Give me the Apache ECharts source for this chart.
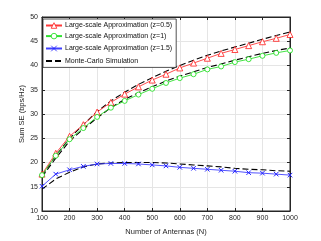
<!DOCTYPE html>
<html><head><meta charset="utf-8">
<script src="https://cdn.jsdelivr.net/npm/echarts@6/dist/echarts.min.js"></script>
<style>html,body{margin:0;padding:0;background:#fff}#c{width:321px;height:241px}</style>
</head><body><div id="c"></div>
<script>
var antennas = [100,150,200,250,300,350,400,450,500,550,600,650,700,750,800,850,900,950,1000];
var approxZ05 = [17.6,21.9,25.4,27.8,30.4,32.4,34.1,35.6,37.0,38.2,39.5,40.5,41.5,42.5,43.3,44.1,44.9,45.6,46.4];
var approxZ1  = [17.4,21.4,24.8,27.1,29.4,31.3,32.7,34.0,35.2,36.4,37.4,38.2,39.2,39.8,40.7,41.3,42.0,42.6,43.1];
var approxZ15 = [15.1,17.6,18.5,19.2,19.7,19.8,19.8,19.7,19.5,19.3,19.0,18.8,18.6,18.4,18.2,17.9,17.8,17.6,17.4];
var mcZ05 = [17.3,21.4,25.0,27.8,30.5,32.7,34.5,36.1,37.5,38.8,40.0,41.1,42.1,43.0,43.8,44.6,45.4,46.2,46.9];
var mcZ1  = [17.0,20.9,24.4,26.9,29.2,31.3,33.0,34.4,35.6,36.8,37.8,38.7,39.6,40.3,41.1,41.8,42.5,43.1,43.6];
var mcZ15 = [14.5,16.6,18.0,19.1,19.7,19.9,20.0,20.0,20.0,19.9,19.7,19.5,19.3,19.1,18.8,18.6,18.5,18.3,18.2];
var xTicks = [100,200,300,400,500,600,700,800,900,1000];
var legendNames = ['Large-scale Approximation (z=0.5)','Large-scale Approximation (z=1)','Large-scale Approximation (z=1.5)','Monte-Carlo Simulation'];

function pairs(ys){ return antennas.map(function(x,i){return [x, ys[i]];}); }
var axisColor = '#262626';
var gridLine = {show:true, lineStyle:{color:'#e5e5e5', width:1}};
var chart = echarts.init(document.getElementById('c'), null, {renderer:'canvas'});
var mcStyle = {type:'line', symbol:'path://M0,0L1,1', showSymbol:false, z:3,
  itemStyle:{color:'#000'}, lineStyle:{color:'#000', width:1.1, type:[6,3]}};
function mc(d){ var s = Object.assign({}, mcStyle); s.name = legendNames[3]; s.data = pairs(d); return s; }
chart.setOption({
  animation:false,
  backgroundColor:'#fff',
  textStyle:{fontFamily:'Liberation Sans, Arial, sans-serif'},
  grid:{left:42, right:31, top:17, bottom:26, show:true, borderColor:axisColor, borderWidth:1, backgroundColor:'transparent'},
  xAxis:[{
    type:'value', min:100, max:1000, interval:100,
    name:'Number of Antennas (N)', nameLocation:'middle', nameGap:17, nameMoveOverlap:false,
    nameTextStyle:{fontSize:7.5, color:axisColor},
    axisLine:{show:true, lineStyle:{color:axisColor}},
    axisTick:{show:true, inside:true, length:3, lineStyle:{color:axisColor}},
    axisLabel:{fontSize:7, color:axisColor, margin:4,
      formatter:function(v){return xTicks.indexOf(v)>=0 ? String(v) : '';}},
    splitLine:gridLine
  },{
    type:'value', position:'top', min:100, max:1000, interval:100,
    axisLine:{show:true, lineStyle:{color:axisColor}},
    axisTick:{show:true, inside:true, length:3, lineStyle:{color:axisColor}},
    axisLabel:{show:false}, splitLine:{show:false}
  }],
  yAxis:[{
    type:'value', min:10, max:50, interval:5,
    name:'Sum SE (bps/Hz)', nameLocation:'middle', nameGap:16, nameMoveOverlap:false,
    nameTextStyle:{fontSize:7.5, color:axisColor},
    axisLine:{show:true, lineStyle:{color:axisColor}},
    axisTick:{show:true, inside:true, length:3, lineStyle:{color:axisColor}},
    axisLabel:{fontSize:7, color:axisColor, margin:4},
    splitLine:gridLine
  },{
    type:'value', position:'right', min:10, max:50, interval:5,
    axisLine:{show:true, lineStyle:{color:axisColor}},
    axisTick:{show:true, inside:true, length:3, lineStyle:{color:axisColor}},
    axisLabel:{show:false}, splitLine:{show:false}
  }],
  legend:{
    orient:'vertical', left:43, top:19,
    itemWidth:16, itemHeight:7, itemGap:3.6,
    padding:[3,4,3,2],
    backgroundColor:'#fff', borderColor:axisColor, borderWidth:0.8,
    itemStyle:{borderWidth:0.8},
    textStyle:{fontSize:7, color:'#111', padding:[0,0,0,-2]},
    data:legendNames
  },
  series:[
    mc(mcZ05), mc(mcZ1), mc(mcZ15),
    {name:legendNames[0], type:'line', data:pairs(approxZ05), symbol:'triangle', symbolSize:6, z:4,
      itemStyle:{color:'#fff', borderColor:'#ff1a1a', borderWidth:0.8}, lineStyle:{color:'#ff3a3a', width:0.9}},
    {name:legendNames[1], type:'line', data:pairs(approxZ1), symbol:'circle', symbolSize:5, z:4,
      itemStyle:{color:'#fff', borderColor:'#10dd10', borderWidth:0.8}, lineStyle:{color:'#30e030', width:0.9}},
    {name:legendNames[2], type:'line', data:pairs(approxZ15), symbol:'path://M0,0L10,10M10,0L0,10', symbolSize:4.5, z:4,
      itemStyle:{color:'none', borderColor:'#2020ff', borderWidth:1}, lineStyle:{color:'#4040ff', width:0.9}}
  ]
});
</script></body></html>
